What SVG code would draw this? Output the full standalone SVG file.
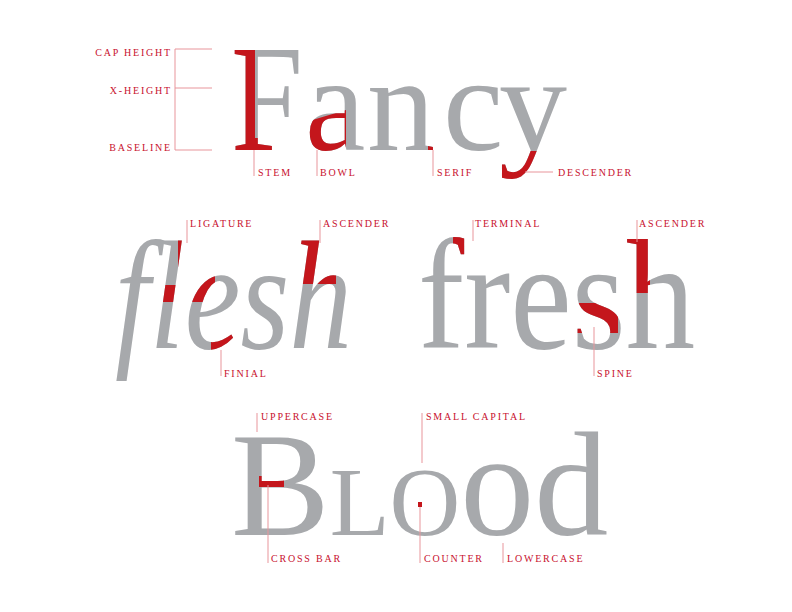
<svg xmlns="http://www.w3.org/2000/svg" xmlns:xlink="http://www.w3.org/1999/xlink" width="792" height="612" viewBox="0 0 792 612">
<style>
.big { font-family: "Liberation Serif", "Times New Roman", serif; }
.gray { fill: #a7a9ac; }
.red { fill: #c4161c; }
.lbl { font-family: "Liberation Serif", "Times New Roman", serif; font-size: 10px; letter-spacing: 1.8px; fill: #c8102e; }
.ld { stroke: #e8959b; stroke-width: 1; fill: none; }
</style>
<defs>
<g id="tFancy" class="big">
<text x="231" y="150" font-size="152" textLength="72" lengthAdjust="spacingAndGlyphs">F</text>
<text x="305 367 443 499" y="150" font-size="136">ancy</text>
</g>
<text id="tFlesh" class="big" x="115" y="348" font-size="155" font-style="italic" textLength="237" lengthAdjust="spacingAndGlyphs">flesh</text>
<text id="tFresh" class="big" x="418" y="348" font-size="157" textLength="277" lengthAdjust="spacingAndGlyphs">fresh</text>
<text id="tBlood" class="big" x="231" y="535" font-size="148">B<tspan font-size="98">LO</tspan>od</text>
<clipPath id="cFancy">
<polygon points="220,40 255,40 255,138 272,138 272,160 220,160"/>
<polygon points="299,124 346,110 346,158 299,158"/>
<rect x="428" y="140" width="14" height="12"/>
<rect x="490" y="151" width="70" height="45"/>
</clipPath>
<clipPath id="cFlesh">
<polygon points="178,232 215,232 215,302 162,302 162,285 178,285"/>
<rect x="211" y="334" width="25" height="18"/>
<rect x="296" y="232" width="40" height="52"/>
</clipPath>
<clipPath id="cFresh">
<rect x="453" y="232" width="30" height="24"/>
<rect x="568" y="303" width="50" height="30"/>
<rect x="620" y="232" width="30" height="61"/>
</clipPath>
<clipPath id="cBlood">
<rect x="259" y="476" width="25" height="11"/>
</clipPath>
</defs>

<g id="guides">
<text class="lbl" x="172" y="56" text-anchor="end">CAP HEIGHT</text>
<text class="lbl" x="172" y="94" text-anchor="end">X-HEIGHT</text>
<text class="lbl" x="172" y="151" text-anchor="end">BASELINE</text>
</g>

<g id="word-fancy">
<use xlink:href="#tFancy" class="gray"/>
<use xlink:href="#tFancy" class="red" clip-path="url(#cFancy)"/>
</g>
<g id="word-flesh">
<use xlink:href="#tFlesh" class="gray"/>
<use xlink:href="#tFlesh" class="red" clip-path="url(#cFlesh)"/>
</g>
<g id="word-fresh">
<use xlink:href="#tFresh" class="gray"/>
<use xlink:href="#tFresh" class="red" clip-path="url(#cFresh)"/>
</g>
<g id="word-blood">
<use xlink:href="#tBlood" class="gray"/>
<use xlink:href="#tBlood" class="red" clip-path="url(#cBlood)"/>
<rect class="red" x="418" y="502" width="4" height="5"/>
</g>

<g id="connectors">
<path class="ld" d="M175,49 V150 M175,49 H212 M175,88 H212 M175,150 H212"/>
<path class="ld" d="M254,150 V176 M317,150 V176 M433,150 V176 M525,172 H553"/>
<path class="ld" d="M187,220 V243 M320,220 V243 M221,350 V376"/>
<path class="ld" d="M473,220 V241 M637,220 V242 M594,327 V376"/>
<path class="ld" d="M257,413 V432 M422,413 V463 M268,485 V563 M420,507 V563 M503,543 V563"/>
</g>

<g id="labels">
<text class="lbl" x="258" y="176">STEM</text>
<text class="lbl" x="320" y="176">BOWL</text>
<text class="lbl" x="437" y="176">SERIF</text>
<text class="lbl" x="558" y="176">DESCENDER</text>
<text class="lbl" x="190" y="227">LIGATURE</text>
<text class="lbl" x="323" y="227">ASCENDER</text>
<text class="lbl" x="224" y="377">FINIAL</text>
<text class="lbl" x="475" y="227">TERMINAL</text>
<text class="lbl" x="639" y="227">ASCENDER</text>
<text class="lbl" x="597" y="377">SPINE</text>
<text class="lbl" x="261" y="420">UPPERCASE</text>
<text class="lbl" x="426" y="420">SMALL CAPITAL</text>
<text class="lbl" x="271" y="562">CROSS BAR</text>
<text class="lbl" x="424" y="562">COUNTER</text>
<text class="lbl" x="507" y="562">LOWERCASE</text>
</g>
</svg>
